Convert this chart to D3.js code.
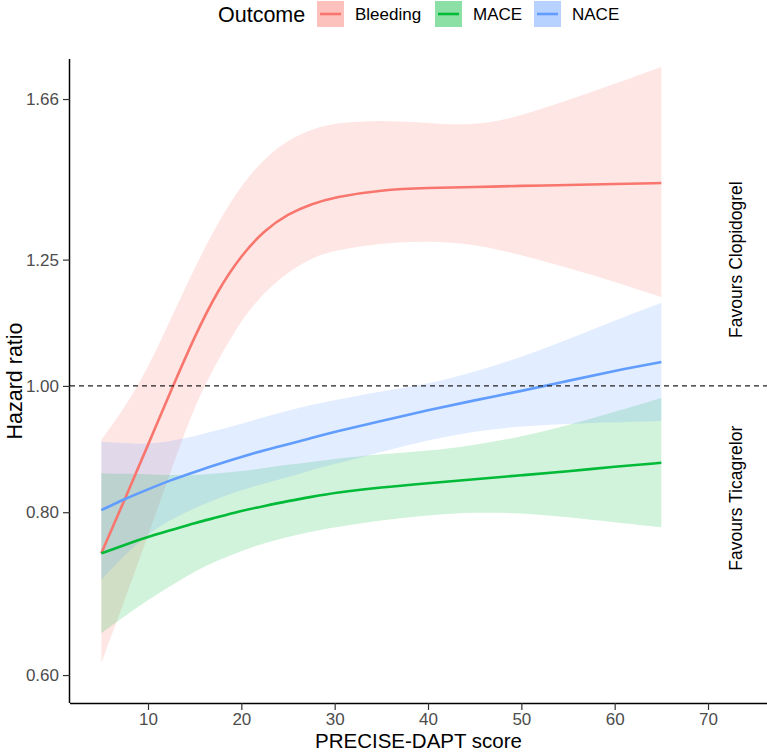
<!DOCTYPE html>
<html><head><meta charset="utf-8">
<script src="https://cdn.jsdelivr.net/npm/d3@7"></script>
<style>
body{margin:0;background:#fff}
svg{display:block}
text{font-family:"Liberation Sans",Arial,Helvetica,sans-serif}
</style>
</head><body>
<svg id="chart" width="767" height="753"></svg>
<script>
// ---- data ----
const score = [5, 7.5, 10, 12.5, 15, 17.5, 20, 22.5, 25, 27.5, 30, 35, 40, 45, 50, 55, 60, 65];
const outcomes = ["Bleeding", "MACE", "NACE"];
const outcomeColors = ["#F8766D", "#00BA38", "#619CFF"];

const bleedingHR = [0.744, 0.818, 0.901, 0.993, 1.092, 1.185, 1.260, 1.317, 1.355, 1.379, 1.396, 1.414, 1.419, 1.421, 1.424, 1.426, 1.429, 1.431];
const bleedingLo = [0.613, 0.685, 0.768, 0.862, 0.967, 1.047, 1.124, 1.181, 1.223, 1.254, 1.271, 1.287, 1.292, 1.285, 1.260, 1.232, 1.202, 1.170];
const bleedingHi = [0.909, 0.962, 1.032, 1.128, 1.232, 1.336, 1.426, 1.496, 1.544, 1.574, 1.591, 1.600, 1.591, 1.583, 1.611, 1.657, 1.705, 1.757];

const maceHR = [0.744, 0.755, 0.766, 0.775, 0.785, 0.793, 0.802, 0.809, 0.816, 0.822, 0.828, 0.836, 0.842, 0.848, 0.854, 0.860, 0.867, 0.873];
const maceLo = [0.646, 0.666, 0.685, 0.703, 0.721, 0.735, 0.747, 0.758, 0.766, 0.773, 0.779, 0.789, 0.796, 0.800, 0.799, 0.793, 0.786, 0.779];
const maceHi = [0.857, 0.856, 0.856, 0.854, 0.854, 0.857, 0.860, 0.865, 0.870, 0.874, 0.879, 0.887, 0.891, 0.901, 0.914, 0.933, 0.955, 0.979];

const naceHR = [0.803, 0.819, 0.833, 0.847, 0.859, 0.871, 0.882, 0.893, 0.902, 0.912, 0.922, 0.940, 0.958, 0.975, 0.991, 1.009, 1.027, 1.043];
const naceLo = [0.710, 0.742, 0.770, 0.790, 0.806, 0.820, 0.832, 0.842, 0.851, 0.862, 0.871, 0.890, 0.909, 0.923, 0.932, 0.935, 0.938, 0.940];
const naceHi = [0.906, 0.904, 0.902, 0.907, 0.915, 0.925, 0.935, 0.947, 0.957, 0.967, 0.975, 0.991, 1.003, 1.025, 1.052, 1.086, 1.122, 1.158];

const xTicks = [10, 20, 30, 40, 50, 60, 70];
const yTicks = [0.60, 0.80, 1.00, 1.25, 1.66];
const refLine = 1.00;
const annotationLabels = ["Favours Clopidogrel", "Favours Ticagrelor"];
const annotationY = [1.25, 0.82];
const annotationX = 73;
const xTitle = "PRECISE-DAPT score";
const yTitle = "Hazard ratio";
const legendTitle = "Outcome";

// ---- build series ----
const seriesHR = [bleedingHR, maceHR, naceHR];
const seriesLo = [bleedingLo, maceLo, naceLo];
const seriesHi = [bleedingHi, maceHi, naceHi];
const series = outcomes.map((name, k) => ({
  name, color: outcomeColors[k],
  pts: score.map((s, i) => ({x: s, y: seriesHR[k][i], lo: seriesLo[k][i], hi: seriesHi[k][i]}))
}));

// ---- layout ----
const pLeft = 70, pRight = 767, pTop = 59, pBottom = 703;
const svg = d3.select("#chart");
const x = d3.scaleLinear().domain([1.643, 76.32]).range([pLeft, pRight]);
const y = d3.scaleLog().domain([0.5711, 1.7817]).range([pBottom, pTop]);

const area = d3.area().x(d => x(d.x)).y0(d => y(d.lo)).y1(d => y(d.hi)).curve(d3.curveBasis);
const line = d3.line().x(d => x(d.x)).y(d => y(d.y)).curve(d3.curveBasis);

const plot = svg.append("g");
plot.selectAll("path.ribbon").data(series).join("path")
  .attr("class", "ribbon")
  .attr("d", d => area(d.pts))
  .attr("fill", d => d.color).attr("fill-opacity", 0.18);

plot.selectAll("path.fit").data(series).join("path")
  .attr("class", "fit")
  .attr("d", d => line(d.pts))
  .attr("fill", "none").attr("stroke", d => d.color)
  .attr("stroke-width", 2.6);

// reference line
plot.append("line")
  .attr("x1", pLeft).attr("x2", pRight)
  .attr("y1", y(refLine)).attr("y2", y(refLine))
  .attr("stroke", "#222").attr("stroke-width", 1.4)
  .attr("stroke-dasharray", "5,4");

// annotations
svg.selectAll("text.ann").data(annotationLabels).join("text")
  .attr("class", "ann")
  .attr("transform", (d, i) => `translate(${x(annotationX)},${y(annotationY[i])}) rotate(-90)`)
  .attr("text-anchor", "middle").attr("dominant-baseline", "central")
  .attr("font-size", 17.5).attr("fill", "#000")
  .text(d => d);

// axes
const xAxis = d3.axisBottom(x).tickValues(xTicks).tickSize(7).tickPadding(3).tickFormat(d3.format("d"));
const gx = svg.append("g").attr("transform", `translate(0,${pBottom})`).call(xAxis);
gx.select(".domain").attr("d", `M${pLeft},0.5H${pRight}`).attr("stroke", "#000").attr("stroke-width", 1.5);
gx.selectAll(".tick line").attr("stroke", "#333").attr("stroke-width", 1.2);
gx.selectAll(".tick text").attr("font-size", 17).attr("fill", "#4D4D4D")
  .attr("font-family", "'Liberation Sans', Arial, sans-serif");

const yAxis = d3.axisLeft(y).tickValues(yTicks).tickSize(7).tickPadding(4).tickFormat(d3.format(".2f"));
const gy = svg.append("g").attr("transform", `translate(${pLeft},0)`).call(yAxis);
gy.select(".domain").attr("d", `M-0.5,${pTop}V${pBottom}`).attr("stroke", "#000").attr("stroke-width", 1.5);
gy.selectAll(".tick line").attr("stroke", "#333").attr("stroke-width", 1.2);
gy.selectAll(".tick text").attr("font-size", 17).attr("fill", "#4D4D4D")
  .attr("font-family", "'Liberation Sans', Arial, sans-serif");

// axis titles
svg.append("text").attr("x", (pLeft + pRight) / 2).attr("y", 748)
  .attr("text-anchor", "middle").attr("font-size", 20.5).attr("fill", "#000").text(xTitle);
svg.append("text").attr("transform", `translate(22,${(pTop + pBottom) / 2}) rotate(-90)`)
  .attr("text-anchor", "middle").attr("font-size", 21.5).attr("fill", "#000").text(yTitle);

// legend
const lg = svg.append("g");
lg.append("text").attr("x", 218).attr("y", 22).attr("font-size", 21.5).attr("fill", "#000").text(legendTitle);
const keyX = [317, 435, 534];
outcomes.forEach((name, k) => {
  const g = lg.append("g").attr("transform", `translate(${keyX[k]},1)`);
  g.append("rect").attr("width", 27).attr("height", 26).attr("fill", outcomeColors[k]).attr("fill-opacity", 0.45);
  g.append("line").attr("x1", 3).attr("x2", 24).attr("y1", 13).attr("y2", 13)
    .attr("stroke", outcomeColors[k]).attr("stroke-width", 2.6);
  g.append("text").attr("x", 38).attr("y", 13).attr("dominant-baseline", "central")
    .attr("font-size", 17).attr("fill", "#000").text(name);
});
</script>
</body></html>
